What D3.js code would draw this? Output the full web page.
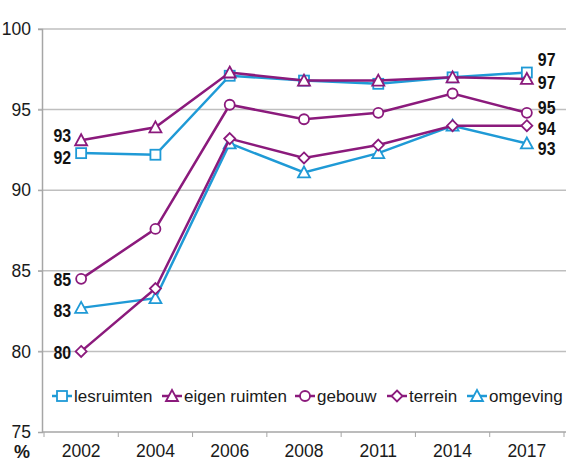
<!DOCTYPE html>
<html><head><meta charset="utf-8">
<script src="https://cdn.jsdelivr.net/npm/d3@7"></script>
<style>
body{margin:0;background:#fff;}
svg{display:block;}
</style></head>
<body><svg id="c" width="566" height="463"></svg>
<script>
const years = ["2002","2004","2006","2008","2011","2014","2017"];
const yTicks = [75,80,85,90,95,100];
const seriesNames = ["lesruimten","eigen ruimten","gebouw","terrein","omgeving"];
const lesruimten   = [92.3, 92.2, 97.1, 96.8, 96.6, 97.0, 97.3];
const eigenRuimten = [93.1, 93.9, 97.3, 96.8, 96.8, 97.0, 96.9];
const gebouw       = [84.5, 87.6, 95.3, 94.4, 94.8, 96.0, 94.8];
const terrein      = [80.0, 83.9, 93.2, 92.0, 92.8, 94.0, 94.0];
const omgeving     = [82.7, 83.3, 92.9, 91.1, 92.3, 94.0, 92.9];
const startLabels = ["92","93","85","80","83"];
const endLabels   = ["97","97","95","94","93"];

const blue = "#1f9ad6", purple = "#8b1a7c";
const series = [
  {name: seriesNames[0], values: lesruimten,   color: blue,   marker: "square",   sLab: startLabels[0], eLab: endLabels[0], sDy: 4,  eDy: -13},
  {name: seriesNames[1], values: eigenRuimten, color: purple, marker: "triangle", sLab: startLabels[1], eLab: endLabels[1], sDy: -5, eDy: 3},
  {name: seriesNames[2], values: gebouw,       color: purple, marker: "circle",   sLab: startLabels[2], eLab: endLabels[2], sDy: 0,  eDy: -5},
  {name: seriesNames[3], values: terrein,      color: purple, marker: "diamond",  sLab: startLabels[3], eLab: endLabels[3], sDy: 1,  eDy: 2.5},
  {name: seriesNames[4], values: omgeving,     color: blue,   marker: "triangle", sLab: startLabels[4], eLab: endLabels[4], sDy: 2,  eDy: 4.5}
];

const svg = d3.select("#c");
const mLeft = 42, mTop = 29, mBottom = 432;
const x = d3.scaleBand().domain(years).range([44, 564]);
const y = d3.scaleLinear().domain([75,100]).range([mBottom, mTop]);
const cx = d => x(d) + x.bandwidth()/2;
const baseFont = "Liberation Sans, Arial, sans-serif";

// gridlines
svg.append("g").selectAll("line").data(yTicks.filter(t=>t>75)).join("line")
  .attr("x1", mLeft-4).attr("x2", 566).attr("y1", d=>y(d)).attr("y2", d=>y(d))
  .attr("stroke", "#bfbfbf").attr("stroke-width", 1.5);

// axes
const yAxis = d3.axisLeft(y).tickValues(yTicks).tickSize(4).tickPadding(7);
const gy = svg.append("g").attr("transform", `translate(${mLeft},0)`).call(yAxis);
gy.select(".domain").attr("stroke", "#a6a6a6").attr("stroke-width", 1.5);
gy.selectAll(".tick line").attr("stroke", "#a6a6a6");
gy.selectAll("text").attr("font-family", baseFont).attr("font-size", 17.5).attr("fill", "#1a1a1a");

const xAxis = d3.axisBottom(x).tickSize(0).tickPadding(13);
const gx = svg.append("g").attr("transform", `translate(0,${mBottom})`).call(xAxis);
gx.select(".domain").remove();
gx.selectAll("text").attr("font-family", baseFont).attr("font-size", 17.5).attr("fill", "#1a1a1a");
svg.append("line").attr("x1", mLeft).attr("x2", 566).attr("y1", mBottom).attr("y2", mBottom).attr("stroke", "#a6a6a6").attr("stroke-width", 1.5);
const bounds = years.map(d=>x(d)).concat([x(years[years.length-1]) + x.bandwidth()]);
svg.append("g").selectAll("line").data(bounds).join("line")
  .attr("x1", d=>d).attr("x2", d=>d).attr("y1", mBottom).attr("y2", mBottom+5)
  .attr("stroke", "#a6a6a6").attr("stroke-width", 1);

svg.append("text").attr("x", 22).attr("y", 458).attr("text-anchor", "middle")
  .attr("font-family", baseFont).attr("font-weight", "bold").attr("font-size", 18).attr("fill", "#1a1a1a").text("%");

function drawMarker(g, type, color, px, py) {
  const common = s => s.attr("fill", "#fff").attr("stroke", color).attr("stroke-width", 1.8);
  if (type === "square") common(g.append("rect").attr("x", px-5).attr("y", py-5).attr("width", 10).attr("height", 10));
  else if (type === "circle") common(g.append("circle").attr("cx", px).attr("cy", py).attr("r", 5));
  else if (type === "triangle") common(g.append("path").attr("d", `M${px},${py-6}L${px+6},${py+5}L${px-6},${py+5}Z`));
  else if (type === "diamond") common(g.append("path").attr("d", `M${px},${py-5.5}L${px+5.5},${py}L${px},${py+5.5}L${px-5.5},${py}Z`));
}

const line = d3.line().x((d,i)=>cx(years[i])).y(d=>y(d));
const order = [4,3,2,0,1];
order.forEach(si => {
  const s = series[si];
  const g = svg.append("g");
  g.append("path").datum(s.values).attr("d", line).attr("fill", "none").attr("stroke", s.color).attr("stroke-width", 2.5);
  s.values.forEach((v,i) => drawMarker(g, s.marker, s.color, cx(years[i]), y(v)));
});

// narrow bold value labels (horizontally condensed)
function valueLabel(px, py, txt, anchor) {
  svg.append("g").attr("transform", `translate(${px},${py}) scale(0.86,1)`)
    .append("text").attr("dy", "0.36em").attr("text-anchor", anchor)
    .attr("font-family", baseFont).attr("font-weight", "bold").attr("font-size", 18.5)
    .attr("fill", "#111").text(txt);
}
series.forEach(s => {
  valueLabel(cx(years[0]) - 10, y(s.values[0]) + s.sDy, s.sLab, "end");
  const last = s.values.length - 1;
  valueLabel(cx(years[last]) + 11, y(s.values[last]) + s.eDy, s.eLab, "start");
});

// legend
const legX = [52, 162, 295, 387, 467];
const legY = 396;
series.forEach((s,i) => {
  const g = svg.append("g");
  g.append("line").attr("x1", legX[i]).attr("x2", legX[i]+20).attr("y1", legY).attr("y2", legY).attr("stroke", s.color).attr("stroke-width", 2.5);
  drawMarker(g, s.marker, s.color, legX[i]+10, legY);
  g.append("text").attr("x", legX[i]+22).attr("y", legY).attr("dy", "0.35em")
    .attr("font-family", baseFont).attr("font-size", 17).attr("fill", "#1a1a1a").text(s.name);
});
</script></body></html>
